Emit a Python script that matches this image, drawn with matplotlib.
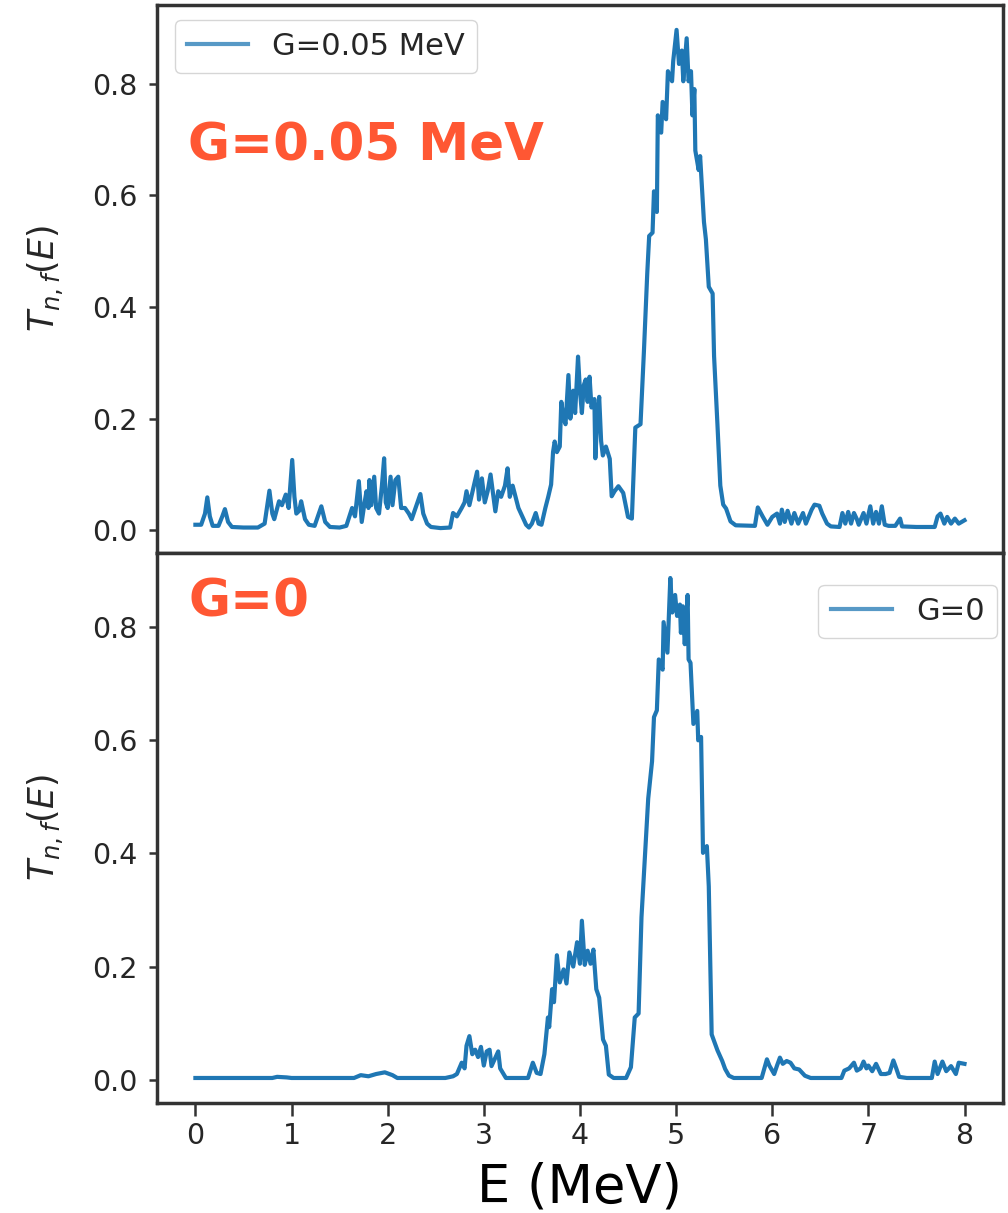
"""Neutron-induced fission transmission T_{n,f}(E) with and without pairing."""

import matplotlib

matplotlib.use("Agg")
import matplotlib.pyplot as plt

# G = 0.05 MeV pairing strength
energy_g005 = [
    0.00, 0.06, 0.10, 0.124, 0.15, 0.18, 0.24, 0.28, 0.307, 0.34, 0.38, 0.50,
    0.65, 0.72, 0.77, 0.80, 0.82, 0.87, 0.90, 0.94, 0.97, 1.007, 1.03, 1.05,
    1.08, 1.10, 1.14, 1.18, 1.24, 1.31, 1.35, 1.40, 1.50, 1.57, 1.63, 1.66,
    1.70, 1.73, 1.76, 1.78, 1.80, 1.81, 1.83, 1.86, 1.88, 1.91, 1.94, 1.963,
    1.98, 2.00, 2.03, 2.05, 2.08, 2.11, 2.14, 2.18, 2.22, 2.25, 2.30, 2.34,
    2.37, 2.41, 2.45, 2.55, 2.65, 2.68, 2.72, 2.77, 2.80, 2.82, 2.85, 2.87,
    2.93, 2.95, 2.98, 3.01, 3.04, 3.07, 3.10, 3.12, 3.15, 3.18, 3.22, 3.247,
    3.27, 3.30, 3.33, 3.36, 3.40, 3.44, 3.47, 3.50, 3.54, 3.57, 3.60, 3.64,
    3.67, 3.70, 3.72, 3.737, 3.76, 3.79, 3.806, 3.83, 3.85, 3.88, 3.90, 3.93,
    3.95, 3.98, 4.00, 4.02, 4.04, 4.06, 4.08, 4.10, 4.12, 4.15, 4.16, 4.18,
    4.20, 4.22, 4.238, 4.27, 4.31, 4.33, 4.36, 4.40, 4.45, 4.50, 4.54, 4.576,
    4.63, 4.665, 4.70, 4.72, 4.755, 4.77, 4.80, 4.81, 4.845, 4.86, 4.896, 4.915,
    4.958, 4.97, 5.005, 5.03, 5.06, 5.075, 5.11, 5.13, 5.155, 5.17, 5.19, 5.20,
    5.235, 5.25, 5.29, 5.31, 5.34, 5.38, 5.395, 5.43, 5.46, 5.49, 5.52, 5.566,
    5.62, 5.82, 5.85, 5.90, 5.95, 6.00, 6.05, 6.08, 6.10, 6.13, 6.16, 6.20,
    6.23, 6.27, 6.32, 6.35, 6.41, 6.44, 6.49, 6.52, 6.57, 6.61, 6.70, 6.73,
    6.76, 6.79, 6.82, 6.85, 6.88, 6.90, 6.95, 6.98, 7.02, 7.05, 7.08, 7.11,
    7.14, 7.17, 7.21, 7.28, 7.33, 7.35, 7.50, 7.69, 7.72, 7.75, 7.79, 7.82,
    7.86, 7.90, 7.94, 8.00,
]
trans_g005 = [
    0.010, 0.010, 0.030, 0.059, 0.025, 0.008, 0.008, 0.025, 0.038, 0.015, 0.006, 0.005,
    0.005, 0.012, 0.071, 0.030, 0.020, 0.052, 0.045, 0.064, 0.040, 0.126, 0.060, 0.030,
    0.035, 0.052, 0.020, 0.010, 0.008, 0.043, 0.015, 0.006, 0.005, 0.008, 0.040, 0.025,
    0.088, 0.015, 0.050, 0.070, 0.040, 0.090, 0.045, 0.096, 0.040, 0.030, 0.080, 0.129,
    0.050, 0.040, 0.096, 0.045, 0.090, 0.096, 0.040, 0.040, 0.030, 0.020, 0.045, 0.065,
    0.030, 0.012, 0.006, 0.004, 0.005, 0.031, 0.025, 0.040, 0.050, 0.070, 0.045, 0.060,
    0.105, 0.055, 0.093, 0.050, 0.070, 0.100, 0.060, 0.034, 0.070, 0.060, 0.080, 0.111,
    0.060, 0.080, 0.060, 0.040, 0.025, 0.010, 0.005, 0.012, 0.031, 0.012, 0.010, 0.040,
    0.060, 0.082, 0.140, 0.159, 0.140, 0.150, 0.230, 0.200, 0.190, 0.278, 0.200, 0.250,
    0.210, 0.311, 0.250, 0.210, 0.260, 0.270, 0.230, 0.275, 0.220, 0.235, 0.129, 0.200,
    0.239, 0.160, 0.134, 0.150, 0.128, 0.061, 0.070, 0.079, 0.067, 0.024, 0.021, 0.184,
    0.190, 0.319, 0.460, 0.527, 0.533, 0.607, 0.570, 0.743, 0.712, 0.767, 0.736, 0.822,
    0.804, 0.840, 0.896, 0.835, 0.859, 0.804, 0.881, 0.804, 0.822, 0.743, 0.790, 0.680,
    0.645, 0.670, 0.552, 0.521, 0.436, 0.424, 0.312, 0.190, 0.080, 0.046, 0.039, 0.016,
    0.009, 0.008, 0.041, 0.025, 0.010, 0.024, 0.030, 0.012, 0.037, 0.015, 0.035, 0.012,
    0.031, 0.012, 0.031, 0.012, 0.037, 0.046, 0.044, 0.030, 0.012, 0.007, 0.006, 0.031,
    0.012, 0.033, 0.012, 0.031, 0.020, 0.010, 0.031, 0.012, 0.043, 0.012, 0.033, 0.012,
    0.043, 0.010, 0.008, 0.008, 0.021, 0.007, 0.006, 0.006, 0.025, 0.030, 0.012, 0.024,
    0.012, 0.021, 0.012, 0.018,
]

# no pairing
energy_g0 = [
    0.00, 0.80, 0.85, 0.95, 1.00, 1.65, 1.72, 1.80, 1.88, 1.97, 2.05, 2.10,
    2.60, 2.68, 2.72, 2.74, 2.77, 2.80, 2.82, 2.85, 2.88, 2.91, 2.94, 2.97,
    3.00, 3.03, 3.06, 3.08, 3.11, 3.15, 3.17, 3.23, 3.46, 3.51, 3.55, 3.59,
    3.63, 3.667, 3.68, 3.71, 3.73, 3.76, 3.79, 3.83, 3.86, 3.89, 3.93, 3.97,
    4.00, 4.02, 4.05, 4.08, 4.11, 4.14, 4.17, 4.20, 4.24, 4.27, 4.30, 4.35,
    4.48, 4.53, 4.57, 4.61, 4.64, 4.67, 4.71, 4.75, 4.77, 4.80, 4.82, 4.86,
    4.87, 4.91, 4.94, 4.96, 4.99, 5.01, 5.04, 5.05, 5.07, 5.09, 5.12, 5.13,
    5.15, 5.18, 5.22, 5.23, 5.26, 5.28, 5.32, 5.34, 5.37, 5.43, 5.48, 5.51,
    5.55, 5.60, 5.89, 5.945, 5.97, 6.02, 6.05, 6.08, 6.11, 6.15, 6.19, 6.23,
    6.28, 6.34, 6.40, 6.72, 6.75, 6.80, 6.85, 6.88, 6.92, 6.95, 6.98, 7.00,
    7.04, 7.08, 7.13, 7.18, 7.22, 7.26, 7.29, 7.32, 7.40, 7.66, 7.69, 7.72,
    7.77, 7.81, 7.86, 7.91, 7.94, 8.00,
]
trans_g0 = [
    0.003, 0.003, 0.005, 0.004, 0.003, 0.003, 0.008, 0.006, 0.010, 0.013, 0.008, 0.003,
    0.003, 0.006, 0.010, 0.018, 0.030, 0.020, 0.060, 0.077, 0.045, 0.053, 0.040, 0.058,
    0.025, 0.050, 0.053, 0.024, 0.035, 0.050, 0.020, 0.003, 0.003, 0.030, 0.012, 0.010,
    0.045, 0.110, 0.093, 0.160, 0.137, 0.220, 0.172, 0.195, 0.170, 0.225, 0.200, 0.243,
    0.205, 0.281, 0.203, 0.228, 0.205, 0.230, 0.160, 0.145, 0.071, 0.060, 0.009, 0.003,
    0.003, 0.022, 0.110, 0.117, 0.287, 0.378, 0.497, 0.563, 0.641, 0.653, 0.743, 0.725,
    0.809, 0.755, 0.887, 0.826, 0.857, 0.820, 0.840, 0.790, 0.837, 0.770, 0.857, 0.743,
    0.737, 0.629, 0.652, 0.600, 0.606, 0.401, 0.413, 0.342, 0.080, 0.052, 0.033, 0.019,
    0.007, 0.003, 0.003, 0.036, 0.025, 0.010, 0.025, 0.039, 0.028, 0.033, 0.030, 0.020,
    0.018, 0.007, 0.003, 0.003, 0.016, 0.020, 0.030, 0.016, 0.020, 0.032, 0.020, 0.025,
    0.015, 0.028, 0.010, 0.010, 0.012, 0.034, 0.020, 0.005, 0.003, 0.003, 0.032, 0.010,
    0.032, 0.015, 0.024, 0.010, 0.030, 0.028,
]

LINE_COLOR = "#1f77b4"
NOTE_COLOR = "#ff5733"
SPINE_COLOR = "#333333"
TEXT_COLOR = "#262626"


def style_axis(ax):
    for spine in ax.spines.values():
        spine.set_color(SPINE_COLOR)
        spine.set_linewidth(2.5)
    ax.tick_params(axis="y", labelsize=20.5, length=6, width=1.8, pad=8,
                   color=SPINE_COLOR, labelcolor=TEXT_COLOR)
    ax.tick_params(axis="x", labelsize=20.5, length=9, width=1.8, pad=5,
                   color=SPINE_COLOR, labelcolor=TEXT_COLOR)
    ax.set_yticks([0.0, 0.2, 0.4, 0.6, 0.8])
    ax.set_ylabel(r"$T_{n,f}(E)$", fontsize=25, color=TEXT_COLOR)
    ax.yaxis.set_label_coords(-0.108, 0.5)


fig = plt.figure(figsize=(10.08, 12.13), dpi=100)
ax_top = fig.add_axes([0.1557, 0.5441, 0.8393, 0.4518])
ax_bot = fig.add_axes([0.1557, 0.0907, 0.8393, 0.4534], sharex=ax_top)

ax_top.plot(energy_g005, trans_g005, color=LINE_COLOR, lw=3.0, label="G=0.05 MeV")
ax_bot.plot(energy_g0, trans_g0, color=LINE_COLOR, lw=3.0, label="G=0")

for ax in (ax_top, ax_bot):
    style_axis(ax)
ax_top.tick_params(axis="x", bottom=False, labelbottom=False)
ax_bot.set_xticks(range(0, 9))
ax_bot.set_xlabel("E (MeV)", fontsize=38, color="black")
ax_bot.xaxis.set_label_coords(0.5, -0.106)

leg_top = ax_top.legend(loc="upper left", bbox_to_anchor=(0.021, 0.973),
                        borderaxespad=0, fontsize=22)
leg_bot = ax_bot.legend(loc="upper right", bbox_to_anchor=(0.993, 0.942),
                        borderaxespad=0, fontsize=22)
for leg in (leg_top, leg_bot):
    for handle in leg.legend_handles:
        handle.set_alpha(0.75)
    for text in leg.get_texts():
        text.set_color(TEXT_COLOR)

ax_top.text(0.037, 0.717, "G=0.05 MeV", transform=ax_top.transAxes,
            fontsize=37, fontweight="bold", color=NOTE_COLOR, va="baseline")
ax_bot.text(0.037, 0.884, "G=0", transform=ax_bot.transAxes,
            fontsize=37, fontweight="bold", color=NOTE_COLOR, va="baseline")

fig.savefig("out.png", dpi=100)
